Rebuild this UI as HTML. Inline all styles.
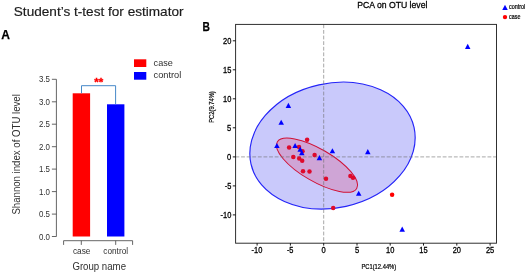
<!DOCTYPE html>
<html>
<head>
<meta charset="utf-8">
<style>
html,body{margin:0;padding:0;background:#fff;}
body{width:525px;height:273px;overflow:hidden;font-family:"Liberation Sans",sans-serif;}
svg{display:block;}
text{font-family:"Liberation Sans",sans-serif;}
</style>
</head>
<body>
<svg width="525" height="273" viewBox="0 0 525 273">
<defs><filter id="soft" x="-2%" y="-2%" width="104%" height="104%" color-interpolation-filters="sRGB"><feGaussianBlur stdDeviation="0.5"/></filter></defs>
<g filter="url(#soft)">
<rect x="-10" y="-10" width="545" height="293" fill="#ffffff"/>

<!-- ===== Panel A ===== -->
<text x="13.8" y="15.7" font-size="13.6" fill="#1c1c1c" stroke="#1c1c1c" stroke-width="0.18">Student’s t-test for estimator</text>
<text x="1.3" y="39.4" font-size="12.8" font-weight="bold" fill="#000" stroke="#000" stroke-width="0.25" textLength="8.7" lengthAdjust="spacingAndGlyphs">A</text>

<!-- legend -->
<rect x="134" y="59.3" width="12.3" height="7.7" fill="#ff0000"/>
<rect x="134" y="72" width="12.3" height="7.7" fill="#0000ff"/>
<text x="153.6" y="65.6" font-size="9.8" fill="#2e2e2e" textLength="19.2" lengthAdjust="spacingAndGlyphs">case</text>
<text x="153.6" y="78.2" font-size="9.8" fill="#2e2e2e" textLength="27.7" lengthAdjust="spacingAndGlyphs">control</text>

<!-- bars -->
<rect x="72.7" y="93.3" width="17.4" height="143.2" fill="#ff0000"/>
<rect x="107" y="104.3" width="17.4" height="132.2" fill="#0000ff"/>

<!-- bracket -->
<path d="M81.5 93.3 V85.7 H115.6 V104.3" fill="none" stroke="#4688c8" stroke-width="1"/>
<text x="98.7" y="86" font-size="11.5" font-weight="bold" fill="#ff0000" stroke="#ff0000" stroke-width="0.35" text-anchor="middle">**</text>

<!-- axes -->
<g stroke="#4a4a4a" stroke-width="0.85" fill="none">
<path d="M56.4 79.3 V236.5"/>
<path d="M51.9 79.3 H56.4 M51.9 101.8 H56.4 M51.9 124.2 H56.4 M51.9 146.7 H56.4 M51.9 169.1 H56.4 M51.9 191.6 H56.4 M51.9 214.1 H56.4 M51.9 236.5 H56.4"/>
<path d="M63.6 244.9 V240.7 H132.6 V244.9 M81.3 240.7 V244.9 M115.7 240.7 V244.9"/>
</g>
<g font-size="9.2" fill="#303030" text-anchor="end">
<text x="49.9" y="82.2" textLength="11" lengthAdjust="spacingAndGlyphs">3.5</text>
<text x="49.9" y="104.7" textLength="11" lengthAdjust="spacingAndGlyphs">3.0</text>
<text x="49.9" y="127.2" textLength="11" lengthAdjust="spacingAndGlyphs">2.5</text>
<text x="49.9" y="149.6" textLength="11" lengthAdjust="spacingAndGlyphs">2.0</text>
<text x="49.9" y="172.1" textLength="11" lengthAdjust="spacingAndGlyphs">1.5</text>
<text x="49.9" y="194.6" textLength="11" lengthAdjust="spacingAndGlyphs">1.0</text>
<text x="49.9" y="217.0" textLength="11" lengthAdjust="spacingAndGlyphs">0.5</text>
<text x="49.9" y="239.5" textLength="11" lengthAdjust="spacingAndGlyphs">0.0</text>
</g>
<g font-size="9.1" fill="#303030" text-anchor="middle">
<text x="81.7" y="253.9" textLength="17.6" lengthAdjust="spacingAndGlyphs">case</text>
<text x="115.7" y="253.9" textLength="24.7" lengthAdjust="spacingAndGlyphs">control</text>
</g>
<text x="99.2" y="269.6" font-size="10.6" fill="#303030" text-anchor="middle" textLength="53.6" lengthAdjust="spacingAndGlyphs">Group name</text>
<text transform="translate(20.2,154.4) rotate(-90)" font-size="10.7" fill="#303030" text-anchor="middle" textLength="120.4" lengthAdjust="spacingAndGlyphs">Shannon index of OTU level</text>

<!-- ===== Panel B ===== -->
<text x="202.4" y="30.9" font-size="12.4" font-weight="bold" fill="#000" stroke="#000" stroke-width="0.25" textLength="7.4" lengthAdjust="spacingAndGlyphs">B</text>
<text x="392.3" y="8" font-size="9.3" fill="#000" stroke="#000" stroke-width="0.28" text-anchor="middle" textLength="70.3" lengthAdjust="spacingAndGlyphs">PCA on OTU level</text>

<!-- ellipses -->
<ellipse cx="332.5" cy="145.6" rx="83.55" ry="62.25" transform="rotate(-12.56 332.5 145.6)" fill="#c9c9fb" stroke="#2424f8" stroke-width="1.15"/>
<ellipse cx="317" cy="165.2" rx="46" ry="16.2" transform="rotate(30.26 317 165.2)" fill="#cfa5d6" stroke="#d01035" stroke-width="1"/>

<!-- dashed lines -->
<g stroke="#6c6c6c" stroke-width="0.6" stroke-dasharray="3.8 1.8" fill="none">
<path d="M323.7 24.4 V243.2"/>
<path d="M235.5 156.9 H496.7"/>
</g>

<!-- plot box -->
<rect x="235.6" y="24.4" width="260.9" height="218.8" fill="none" stroke="#262626" stroke-width="0.95"/>
<g stroke="#000" stroke-width="0.9" fill="none">
<path d="M232.8 40.8 H235.5 M232.8 69.8 H235.5 M232.8 98.8 H235.5 M232.8 127.8 H235.5 M232.8 156.9 H235.5 M232.8 185.9 H235.5 M232.8 214.9 H235.5"/>
<path d="M257.1 243.2 V245.6 M290.4 243.2 V245.6 M323.7 243.2 V245.6 M357.0 243.2 V245.6 M390.2 243.2 V245.6 M423.5 243.2 V245.6 M456.8 243.2 V245.6 M490.1 243.2 V245.6"/>
</g>
<g font-size="8.3" fill="#000" stroke="#000" stroke-width="0.28" text-anchor="end">
<text x="231.3" y="43.7" textLength="8.3" lengthAdjust="spacingAndGlyphs">20</text>
<text x="231.3" y="72.7" textLength="8.3" lengthAdjust="spacingAndGlyphs">15</text>
<text x="231.3" y="101.8" textLength="8.3" lengthAdjust="spacingAndGlyphs">10</text>
<text x="231.3" y="130.8" textLength="4.2" lengthAdjust="spacingAndGlyphs">5</text>
<text x="231.3" y="159.8" textLength="4.2" lengthAdjust="spacingAndGlyphs">0</text>
<text x="231.3" y="188.8" textLength="6.6" lengthAdjust="spacingAndGlyphs">-5</text>
<text x="231.3" y="217.9" textLength="10.8" lengthAdjust="spacingAndGlyphs">-10</text>
</g>
<g font-size="8.3" fill="#000" stroke="#000" stroke-width="0.28" text-anchor="middle">
<text x="256.9" y="253.4" textLength="10.8" lengthAdjust="spacingAndGlyphs">-10</text>
<text x="290.2" y="253.4" textLength="6.6" lengthAdjust="spacingAndGlyphs">-5</text>
<text x="323.7" y="253.4" textLength="4.2" lengthAdjust="spacingAndGlyphs">0</text>
<text x="357.0" y="253.4" textLength="4.2" lengthAdjust="spacingAndGlyphs">5</text>
<text x="390.2" y="253.4" textLength="8.3" lengthAdjust="spacingAndGlyphs">10</text>
<text x="423.5" y="253.4" textLength="8.3" lengthAdjust="spacingAndGlyphs">15</text>
<text x="456.8" y="253.4" textLength="8.3" lengthAdjust="spacingAndGlyphs">20</text>
<text x="490.1" y="253.4" textLength="8.3" lengthAdjust="spacingAndGlyphs">25</text>
</g>
<text x="378.8" y="269.2" font-size="6.7" fill="#000" stroke="#000" stroke-width="0.2" text-anchor="middle" textLength="34.8" lengthAdjust="spacingAndGlyphs">PC1(12.44%)</text>
<text transform="translate(214.4,107) rotate(-90)" font-size="6.7" fill="#000" stroke="#000" stroke-width="0.2" text-anchor="middle" textLength="31.6" lengthAdjust="spacingAndGlyphs">PC2(9.74%)</text>

<!-- points -->
<defs>
<path id="tr" d="M0 -2.7 L2.75 2.4 L-2.75 2.4 Z"/>
</defs>
<g fill="#de0a2c">
<circle cx="307.1" cy="139.7" r="2.25"/>
<circle cx="289.1" cy="147.6" r="2.25"/>
<circle cx="299" cy="147" r="2.25"/>
<circle cx="302.5" cy="151.3" r="2.25"/>
<circle cx="293.3" cy="157.1" r="2.25"/>
<circle cx="299.2" cy="158.5" r="2.25"/>
<circle cx="302.2" cy="160.8" r="2.25"/>
<circle cx="314.6" cy="155" r="2.25"/>
<circle cx="303" cy="171.2" r="2.25"/>
<circle cx="309.5" cy="171.4" r="2.25"/>
<circle cx="326" cy="178.8" r="2.25"/>
<circle cx="350.4" cy="176.1" r="2.25"/>
<circle cx="353" cy="177.7" r="2.25"/>
<circle cx="333.2" cy="208" r="2.25"/>
</g>
<circle cx="392.1" cy="194.7" r="2.25" fill="#ff0000"/>
<g fill="#0000ff">
<use href="#tr" x="276.9" y="145.6"/>
<use href="#tr" x="295.1" y="145.6"/>
<use href="#tr" x="300.2" y="149.3"/>
<use href="#tr" x="301.8" y="152.9"/>
<use href="#tr" x="319.4" y="157.8"/>
<use href="#tr" x="332.4" y="150.9"/>
<use href="#tr" x="367.8" y="151.8"/>
<use href="#tr" x="358.7" y="193.4"/>
<use href="#tr" x="288.4" y="105.5"/>
<use href="#tr" x="281.2" y="122.4"/>
<use href="#tr" x="467.7" y="46.5"/>
<use href="#tr" x="402.2" y="229.3"/>
</g>

<!-- legend B -->
<use href="#tr" x="505" y="7.5" fill="#0000ff"/>
<circle cx="505" cy="17.1" r="2.2" fill="#ff0000"/>
<text x="509" y="9.3" font-size="6.9" fill="#000" stroke="#000" stroke-width="0.2" textLength="16.3" lengthAdjust="spacingAndGlyphs">control</text>
<text x="509" y="19.0" font-size="6.9" fill="#000" stroke="#000" stroke-width="0.2" textLength="11.4" lengthAdjust="spacingAndGlyphs">case</text>
</g>
</svg>
</body>
</html>
